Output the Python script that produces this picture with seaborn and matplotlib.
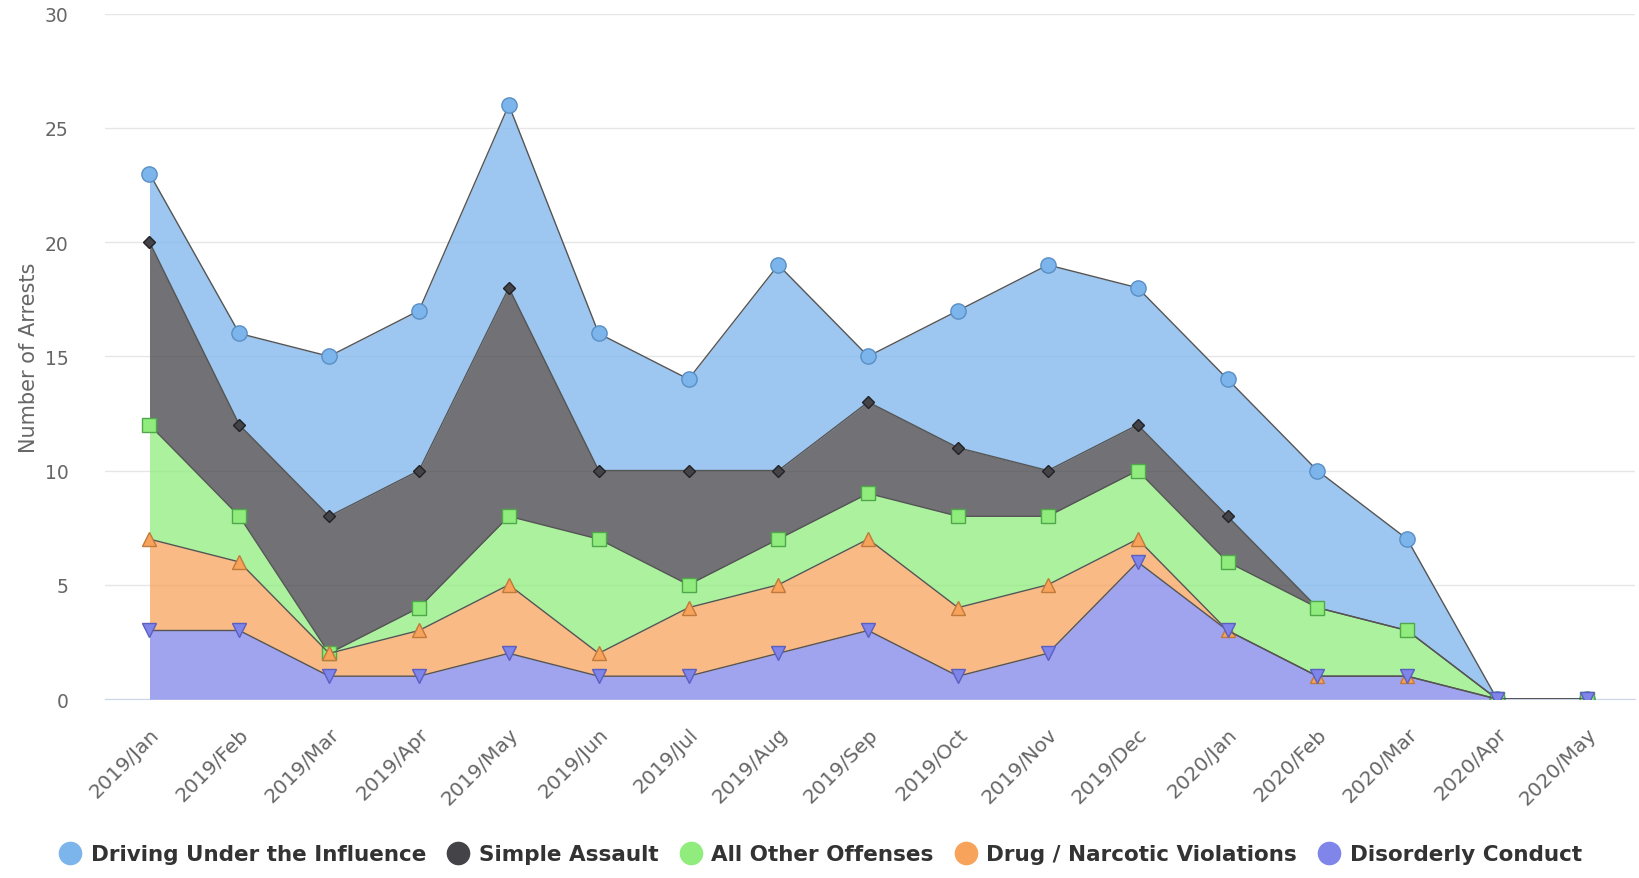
import numpy as np
import pandas as pd
import matplotlib
matplotlib.use("Agg")
import matplotlib.pyplot as plt
from matplotlib.lines import Line2D
import seaborn as sns

months = ["2019/Jan", "2019/Feb", "2019/Mar", "2019/Apr", "2019/May", "2019/Jun",
          "2019/Jul", "2019/Aug", "2019/Sep", "2019/Oct", "2019/Nov", "2019/Dec",
          "2020/Jan", "2020/Feb", "2020/Mar", "2020/Apr", "2020/May"]

# monthly counts per offense (stacked bottom to top in reverse order)
dui = [3, 4, 7, 7, 8, 6, 4, 9, 2, 6, 9, 6, 6, 6, 4, 0, 0]
simple_assault = [8, 4, 6, 6, 10, 3, 5, 3, 4, 3, 2, 2, 2, 0, 0, 0, 0]
all_other = [5, 2, 0, 1, 3, 5, 1, 2, 2, 4, 3, 3, 3, 3, 2, 0, 0]
drug = [4, 3, 1, 2, 3, 1, 3, 3, 4, 3, 3, 1, 0, 0, 0, 0, 0]
disorderly = [3, 3, 1, 1, 2, 1, 1, 2, 3, 1, 2, 6, 3, 1, 1, 0, 0]

names = ["Driving Under the Influence", "Simple Assault", "All Other Offenses",
         "Drug / Narcotic Violations", "Disorderly Conduct"]
colors = ["#7cb5ec", "#434348", "#90ed7d", "#f7a35c", "#8085e9"]
edge_colors = ["#5a8fc4", "#222226", "#4fa84a", "#c07a3a", "#5a5fc0"]
markers = ["o", "D", "s", "^", "v"]
msizes = [11, 6, 10, 10, 10]

sns.set_style("white")
plt.rcParams["font.family"] = ["DejaVu Sans"]

fig = plt.figure(figsize=(16.39, 8.79), dpi=100)
ax = fig.add_axes([0.0638, 0.2036, 0.934, 0.7798])

x = np.arange(len(months))
series = [dui, simple_assault, all_other, drug, disorderly]
# build cumulative stacks from the bottom series upward
stack_order = list(range(len(series)))[::-1]
base = np.zeros(len(months))
tops = {}
bottoms = {}
for i in stack_order:
    bottoms[i] = base.copy()
    base = base + np.array(series[i])
    tops[i] = base.copy()

for i in range(len(series)):
    ax.fill_between(x, bottoms[i], tops[i], color=colors[i], alpha=0.75, lw=0, zorder=2)

for i in range(len(series)):
    df = pd.DataFrame({"month": x, "value": tops[i]})
    sns.lineplot(data=df, x="month", y="value", ax=ax, color="#555555", lw=1,
                 marker=markers[i], markersize=msizes[i], markerfacecolor=colors[i],
                 markeredgecolor=edge_colors[i], markeredgewidth=1, zorder=3 + i)

ax.set_xlim(-0.5, len(months) - 0.46)
ax.set_ylim(0, 30)
ax.set_yticks(range(0, 31, 5))
ax.yaxis.grid(True, color="#e6e6e6", lw=1)
ax.xaxis.grid(False)
for s in ["top", "right", "left"]:
    ax.spines[s].set_visible(False)
ax.spines["bottom"].set_color("#ccd6eb")
ax.spines["bottom"].set_zorder(1)
ax.set_xticks(x)
ax.set_xticklabels(months, rotation=45, ha="right", rotation_mode="anchor", fontsize=14.5, color="#666666")
ax.tick_params(axis="x", length=12, color="#ccd6eb", pad=6)
ax.tick_params(axis="y", length=0, labelsize=13.5, labelcolor="#666666", pad=26)
ax.set_xlabel("")
ax.set_ylabel("Number of Arrests", fontsize=15, color="#666666", labelpad=4)

handles = [Line2D([0], [0], marker="o", color="none", markerfacecolor=c, markeredgecolor=c,
                  markersize=16) for c in colors]
fig.legend(handles, names, loc="center", bbox_to_anchor=(0.5, 0.027), ncol=5, frameon=False,
           prop={"weight": "bold", "size": 15.5}, handletextpad=0.35, columnspacing=0.9,
           labelcolor="#333333", handlelength=1.2)

fig.savefig("out.png", dpi=100)
